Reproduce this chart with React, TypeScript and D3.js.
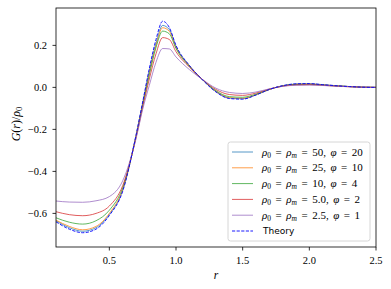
import React from "react";
import * as d3 from "d3";

const rValues = [0.1, 0.2, 0.3, 0.4, 0.5, 0.6, 0.7, 0.75, 0.8, 0.85, 0.9, 0.95, 1.0, 1.1, 1.2, 1.3, 1.4, 1.5, 1.6, 1.7, 1.8, 1.9, 2.0, 2.1, 2.2, 2.3, 2.4, 2.5];

const g50 = [-0.635, -0.668, -0.685, -0.668, -0.605, -0.49, -0.23, -0.075, 0.08, 0.21, 0.295, 0.275, 0.195, 0.104, 0.036, -0.02, -0.051, -0.054, -0.036, -0.01, 0.008, 0.016, 0.017, 0.013, 0.008, 0.004, 0.001, 0.0];
const g25 = [-0.632, -0.662, -0.678, -0.662, -0.6, -0.487, -0.232, -0.08, 0.07, 0.2, 0.284, 0.267, 0.19, 0.103, 0.036, -0.019, -0.049, -0.052, -0.035, -0.01, 0.007, 0.015, 0.016, 0.012, 0.008, 0.004, 0.001, 0.0];
const g10 = [-0.621, -0.642, -0.651, -0.635, -0.585, -0.478, -0.236, -0.085, 0.06, 0.19, 0.268, 0.255, 0.185, 0.1, 0.036, -0.016, -0.044, -0.047, -0.032, -0.009, 0.007, 0.014, 0.015, 0.011, 0.007, 0.004, 0.001, 0.0];
const g5 = [-0.592, -0.606, -0.611, -0.6, -0.565, -0.468, -0.24, -0.095, 0.04, 0.16, 0.237, 0.228, 0.17, 0.097, 0.037, -0.01, -0.034, -0.038, -0.027, -0.008, 0.006, 0.012, 0.013, 0.01, 0.006, 0.003, 0.001, 0.0];
const g25b = [-0.541, -0.546, -0.547, -0.54, -0.52, -0.445, -0.245, -0.105, 0.01, 0.12, 0.185, 0.183, 0.145, 0.085, 0.037, -0.004, -0.024, -0.029, -0.022, -0.007, 0.005, 0.01, 0.011, 0.009, 0.006, 0.003, 0.001, 0.0];
const gTheory = [-0.64, -0.675, -0.692, -0.675, -0.61, -0.495, -0.228, -0.07, 0.09, 0.228, 0.315, 0.285, 0.2, 0.105, 0.035, -0.022, -0.053, -0.056, -0.036, -0.01, 0.008, 0.017, 0.018, 0.013, 0.008, 0.004, 0.001, 0.0];

const xTicks = [0.5, 1.0, 1.5, 2.0, 2.5];
const yTicks = [-0.6, -0.4, -0.2, 0.0, 0.2];

const series = [
  { rho: "50", phi: "20", values: g50, color: "#1f77b4" },
  { rho: "25", phi: "10", values: g25, color: "#ff7f0e" },
  { rho: "10", phi: "4", values: g10, color: "#2ca02c" },
  { rho: "5.0", phi: "2", values: g5, color: "#d62728" },
  { rho: "2.5", phi: "1", values: g25b, color: "#9467bd" },
];

const W = 391, H = 289;
const L = 56, R = 376, T = 8, B = 247;

export default function App() {
  const x = d3.scaleLinear().domain([0.1, 2.5]).range([L, R]);
  const y = d3.scaleLinear().domain([-0.76, 0.378]).range([B, T]);
  const line = d3
    .line<number>()
    .x((_, i) => x(rValues[i]))
    .y((d) => y(d))
    .curve(d3.curveMonotoneX);
  const serif = "'Liberation Serif', 'Times New Roman', serif";
  const fmt = (v: number) => (v < 0 ? "\u2212" : "") + Math.abs(v).toFixed(1);

  const lgX = 228, lgY = 142, lgW = 142, lgH = 99;
  const rowY = (i: number) => lgY + 10 + i * 15.8;
  const sp = 4.5;

  return (
    <svg width={W} height={H} style={{ position: "absolute", left: 0, top: 0 }}>
      <rect x={0} y={0} width={W} height={H} fill="white" />
      <defs>
        <clipPath id="plotclip">
          <rect x={L} y={T} width={R - L} height={B - T} />
        </clipPath>
      </defs>
      <g clipPath="url(#plotclip)">
        {series.map((s) => (
          <path key={s.rho} d={line(s.values) || ""} fill="none" stroke={s.color} strokeWidth={1} strokeOpacity={0.75} />
        ))}
        <path d={line(gTheory) || ""} fill="none" stroke="#0000ff" strokeWidth={0.9} strokeDasharray="3.2,1.4" />
      </g>
      <rect x={L} y={T} width={R - L} height={B - T} fill="none" stroke="black" strokeWidth={0.8} />
      {xTicks.map((t) => (
        <g key={t}>
          <line x1={x(t)} x2={x(t)} y1={B} y2={B + 3.5} stroke="black" strokeWidth={0.8} />
          <text x={x(t)} y={264} textAnchor="middle" fontFamily={serif} fontSize={10.5}>
            {t.toFixed(1)}
          </text>
        </g>
      ))}
      {yTicks.map((t) => (
        <g key={t}>
          <line x1={L - 3.5} x2={L} y1={y(t)} y2={y(t)} stroke="black" strokeWidth={0.8} />
          <text x={47} y={y(t) + 3.6} textAnchor="end" fontFamily={serif} fontSize={10.5}>
            {fmt(t)}
          </text>
        </g>
      ))}
      <text x={216} y={279} textAnchor="middle" fontFamily={serif} fontSize={11.5} fontStyle="italic">
        r
      </text>
      <text transform={`translate(20,124) rotate(-90)`} textAnchor="middle" fontFamily={serif} fontSize={12}>
        <tspan fontStyle="italic">G</tspan>
        <tspan>(</tspan>
        <tspan fontStyle="italic">r</tspan>
        <tspan>)/</tspan>
        <tspan fontStyle="italic">ρ</tspan>
        <tspan fontSize={8.5} dy={2}>0</tspan>
      </text>
      <rect x={lgX} y={lgY} width={lgW} height={lgH} rx={2.5} fill="white" fillOpacity={0.8} stroke="#cccccc" strokeWidth={0.8} />
      {series.map((s, i) => (
        <g key={s.rho}>
          <line x1={232} x2={253} y1={rowY(i)} y2={rowY(i)} stroke={s.color} strokeWidth={1} strokeOpacity={0.75} />
          <text x={262} y={rowY(i) + 3.6} fontFamily={serif} fontSize={11}>
            <tspan fontStyle="italic">ρ</tspan>
            <tspan fontSize={7.5} dy={2}>0</tspan>
            <tspan dy={-2} dx={sp}>=</tspan>
            <tspan fontStyle="italic" dx={sp}>ρ</tspan>
            <tspan fontSize={7.5} fontStyle="italic" dy={2}>m</tspan>
            <tspan dy={-2} dx={sp}>=</tspan>
            <tspan dx={sp}>{`${s.rho},`}</tspan>
            <tspan fontStyle="italic" dx={sp}>φ</tspan>
            <tspan dx={sp}>=</tspan>
            <tspan dx={sp}>{s.phi}</tspan>
          </text>
        </g>
      ))}
      <line x1={232} x2={253} y1={rowY(5)} y2={rowY(5)} stroke="#0000ff" strokeWidth={0.9} strokeDasharray="3.2,1.4" />
      <text x={263} y={rowY(5) + 3.3} fontFamily="'DejaVu Sans', sans-serif" fontSize={9}>
        Theory
      </text>
    </svg>
  );
}
